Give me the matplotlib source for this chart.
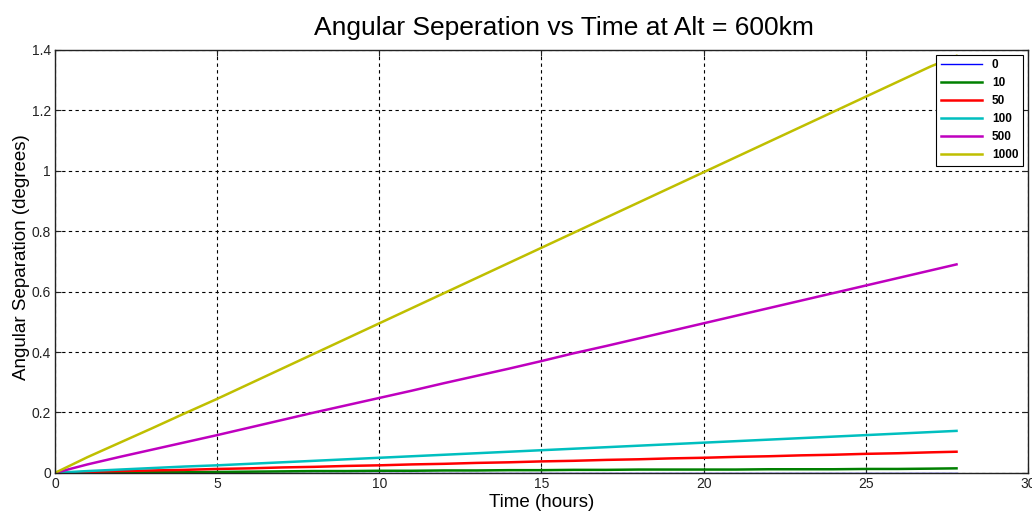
import matplotlib.pyplot as plt
import numpy as np

plt.rcParams['font.family'] = ['Liberation Sans', 'DejaVu Sans']

# tiempo en horas
t = [0, 1, 2, 3, 4, 5, 6, 7, 8, 9, 10, 11, 12, 13, 14, 15, 16, 17, 18, 19,
     20, 21, 22, 23, 24, 25, 26, 27, 27.8]

sep_0 = [0.0] * len(t)
sep_10 = [0, 0.001, 0.001, 0.002, 0.002, 0.003, 0.004, 0.005, 0.006, 0.006,
          0.007, 0.007, 0.008, 0.008, 0.009, 0.009, 0.010, 0.010, 0.011, 0.011,
          0.011, 0.011, 0.012, 0.012, 0.012, 0.013, 0.013, 0.014, 0.015]
sep_50 = [0, 0.003, 0.006, 0.008, 0.010, 0.013, 0.015, 0.018, 0.020, 0.023,
          0.025, 0.028, 0.030, 0.033, 0.035, 0.038, 0.040, 0.043, 0.045, 0.048,
          0.050, 0.053, 0.055, 0.058, 0.060, 0.063, 0.065, 0.068, 0.070]
sep_100 = [0, 0.006, 0.011, 0.016, 0.021, 0.025, 0.030, 0.035, 0.040, 0.045,
           0.050, 0.055, 0.060, 0.065, 0.070, 0.075, 0.080, 0.085, 0.090, 0.095,
           0.100, 0.105, 0.110, 0.115, 0.120, 0.125, 0.130, 0.135, 0.139]
sep_500 = [0, 0.028, 0.053, 0.077, 0.101, 0.125, 0.150, 0.175, 0.200, 0.224,
           0.248, 0.272, 0.297, 0.321, 0.345, 0.370, 0.396, 0.420, 0.445, 0.470,
           0.495, 0.520, 0.545, 0.570, 0.595, 0.620, 0.645, 0.670, 0.690]
sep_1000 = [0, 0.052, 0.100, 0.148, 0.197, 0.245, 0.295, 0.345, 0.395, 0.445,
            0.495, 0.545, 0.595, 0.645, 0.695, 0.745, 0.795, 0.845, 0.895, 0.945,
            0.995, 1.045, 1.095, 1.145, 1.195, 1.245, 1.295, 1.345, 1.380]

etiquetas = ['0', '10', '50', '100', '500', '1000']
series = [sep_0, sep_10, sep_50, sep_100, sep_500, sep_1000]
colores = ['#0000ff', '#008000', '#ff0000', '#00bfbf', '#bf00bf', '#bfbf00']
grosores = [1.0, 1.8, 1.8, 1.8, 1.8, 1.8]

fig = plt.figure(figsize=(10.32, 5.14), dpi=100)
ax = fig.add_axes([0.0533, 0.080, 0.9427, 0.823])

for y, lab, c, lw in zip(series, etiquetas, colores, grosores):
    ax.plot(t, y, color=c, linewidth=lw, label=lab)

ax.set_xlim(0, 30)
ax.set_ylim(0, 1.4)
ax.set_xticks(np.arange(0, 31, 5))
ax.set_yticks([0, 0.2, 0.4, 0.6, 0.8, 1.0, 1.2, 1.4])
ax.set_yticklabels(['0', '0.2', '0.4', '0.6', '0.8', '1', '1.2', '1.4'])
ax.tick_params(direction='in', top=True, right=True, labelsize=10,
               length=4, colors='#222222', pad=3)
ax.grid(True, color='black', linestyle=(0, (3, 3)), linewidth=0.8)
for s in ax.spines.values():
    s.set_linewidth(1.0)
    s.set_color('#222222')

ax.set_title('Angular Seperation vs Time at Alt = 600km', fontsize=19, pad=11, x=0.523)
ax.set_xlabel('Time (hours)', fontsize=13.5, labelpad=2)
ax.set_ylabel('Angular Separation (degrees)', fontsize=13.5)
ax.yaxis.set_label_coords(-0.026, 0.51)

leg = ax.legend(loc='upper right', prop={'weight': 'bold', 'size': 8.5},
                fancybox=False, framealpha=1, edgecolor='black',
                handlelength=3.5, borderaxespad=0.4, labelspacing=0.5)
leg.get_frame().set_linewidth(0.8)

fig.savefig('out.png', dpi=100)
